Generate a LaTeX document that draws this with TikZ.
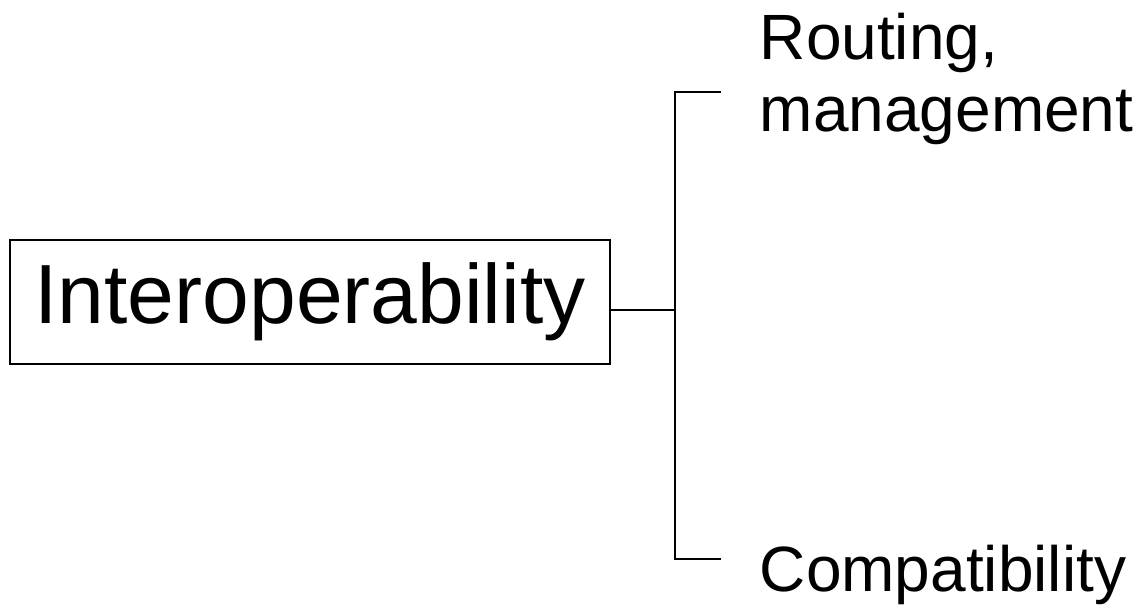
\documentclass[tikz,border=0pt]{standalone}
\usepackage{fontspec}
\setmainfont{Liberation Sans}
\usetikzlibrary{positioning}
\begin{document}
\begin{tikzpicture}
[-,x=1pt,y=1pt,line width=1.6pt,%
  every node/.style={inner sep=0pt},%
  leaf/.style={anchor=base west,font=\fontsize{64}{76}\selectfont}]
\useasboundingbox (0,0) rectangle (1142,613);
\node[draw,minimum width=600,minimum height=124,
  font=\fontsize{84}{100}\selectfont] (interop) at (310,311) {Interoperability};
% bracket
\coordinate (fork) at (675,303);
\coordinate (forktop) at (675,521);
\coordinate (forkbot) at (675,54);
\coordinate (toptip) at (721,521);
\coordinate (bottip) at (721,54);
\draw (interop.east |- fork) -- (fork);
\draw (toptip) -- (forktop) -- (forkbot) -- (bottip);
\node[leaf] (routing) at (759,553) {Routing,};
\node[leaf] (mgmt) at (759,481) {management};
\node[leaf] (compat) at (759,22) {Compatibility};
\end{tikzpicture}
\end{document}
